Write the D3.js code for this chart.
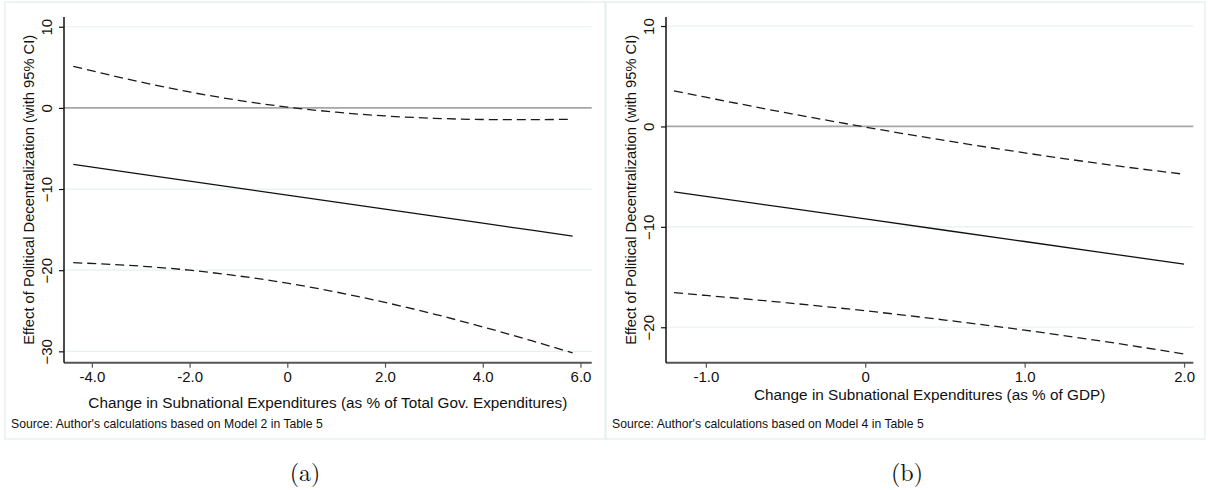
<!DOCTYPE html>
<html>
<head>
<meta charset="utf-8">
<script src="https://cdn.jsdelivr.net/npm/d3@7"></script>
<style>
  body { margin: 0; background: #fff; }
  svg text { font-family: "Liberation Sans", Arial, sans-serif; }
</style>
</head>
<body>
<svg id="fig" width="1208" height="490"></svg>
<script>
// Panel (a): marginal effect vs change in subnational expenditures (% of total gov. expenditures)
const xA = [-4.38, -3, -2, -1, 0, 1, 2, 3, 4, 5, 5.84];
const effectA = [-6.97, -8.16, -9.02, -9.89, -10.75, -11.61, -12.48, -13.34, -14.21, -15.07, -15.80];
const upperA = [5.13, 3.18, 1.96, 0.93, 0.10, -0.53, -0.99, -1.28, -1.43, -1.45, -1.40];
const lowerA = [-19.07, -19.50, -20.00, -20.71, -21.60, -22.69, -23.97, -25.40, -26.99, -28.69, -30.20];
const xTicksA = [-4, -2, 0, 2, 4, 6];
const xTickLabelsA = ["-4.0", "-2.0", "0", "2.0", "4.0", "6.0"];
const yTicksA = [10, 0, -10, -20, -30];

// Panel (b): marginal effect vs change in subnational expenditures (% of GDP)
const xB = [-1.2, -1, -0.5, 0, 0.5, 1, 1.5, 2];
const effectB = [-6.51, -6.96, -8.09, -9.21, -10.34, -11.46, -12.59, -13.71];
const upperB = [3.54, 2.91, 1.37, -0.06, -1.40, -2.63, -3.76, -4.76];
const lowerB = [-16.56, -16.83, -17.55, -18.36, -19.28, -20.29, -21.42, -22.66];
const xTicksB = [-1, 0, 1, 2];
const xTickLabelsB = ["-1.0", "0", "1.0", "2.0"];
const yTicksB = [10, 0, -10, -20];

const yTitle = "Effect of Political Decentralization (with 95% CI)";

const svg = d3.select("#fig");

function drawPanel(cfg) {
  const g = svg.append("g");

  // light outer frame of the graph region
  g.append("rect")
    .attr("x", cfg.frame[0]).attr("y", cfg.frame[1])
    .attr("width", cfg.frame[2]).attr("height", cfg.frame[3])
    .attr("fill", "none").attr("stroke", "#e9efef").attr("stroke-width", 1.5);

  const x = d3.scaleLinear().domain(cfg.xDomain).range([cfg.left, cfg.right]);
  const y = d3.scaleLinear().domain(cfg.yDomain).range([cfg.bottom, cfg.top]);

  // horizontal grid lines
  g.append("g").selectAll("line").data(cfg.yTicks.filter(d => d !== 0)).join("line")
    .attr("x1", cfg.left).attr("x2", cfg.right)
    .attr("y1", d => y(d)).attr("y2", d => y(d))
    .attr("stroke", "#e8f0f1").attr("stroke-width", 1.2);

  // reference line at zero
  g.append("line")
    .attr("x1", cfg.left).attr("x2", cfg.right)
    .attr("y1", y(0)).attr("y2", y(0))
    .attr("stroke", "#a6a6a6").attr("stroke-width", 1.8);

  const zip = (xs, ys) => xs.map((v, i) => [v, ys[i]]);

  // confidence bounds
  [cfg.upper, cfg.lower].forEach(vals => {
    g.append("path").datum(zip(cfg.xs, vals))
      .attr("d", d3.line().curve(d3.curveMonotoneX).x(d => x(d[0])).y(d => y(d[1])))
      .attr("fill", "none").attr("stroke", "#1a1a1a").attr("stroke-width", 1.3)
      .attr("stroke-dasharray", "9,5");
  });

  // point estimate
  g.append("path").datum(zip(cfg.xs, cfg.effect))
    .attr("d", d3.line().x(d => x(d[0])).y(d => y(d[1])))
    .attr("fill", "none").attr("stroke", "#111").attr("stroke-width", 1.3);

  // x axis
  const xAxis = g.append("g").attr("transform", `translate(0,${cfg.bottom})`)
    .call(d3.axisBottom(x).tickValues(cfg.xTicks)
      .tickFormat((d, i) => cfg.xTickLabels[i]).tickSize(5).tickPadding(4));
  xAxis.select(".domain").attr("stroke", "#555").attr("stroke-width", 2)
    .attr("d", `M${cfg.left},0H${cfg.right}`);
  xAxis.selectAll(".tick line").attr("stroke", "#555").attr("stroke-width", 1.2);
  xAxis.selectAll("text").attr("font-size", 15).attr("fill", "#111");

  // y axis with vertical tick labels
  const yAxis = g.append("g").attr("transform", `translate(${cfg.left},0)`)
    .call(d3.axisLeft(y).tickValues(cfg.yTicks).tickSize(5).tickFormat(d3.format("d")));
  yAxis.select(".domain").attr("stroke", "#111").attr("stroke-width", 1.5)
    .attr("d", `M0,${cfg.top}V${cfg.bottom}`);
  yAxis.selectAll(".tick line").attr("stroke", "#111").attr("stroke-width", 1.2);
  yAxis.selectAll(".tick text")
    .attr("font-size", 15).attr("fill", "#111")
    .attr("text-anchor", "middle")
    .attr("x", 0).attr("y", 0).attr("dy", 0)
    .attr("transform", "translate(-12,0) rotate(-90)");

  // y axis title
  g.append("text")
    .attr("transform", `translate(${cfg.left - 30},${(cfg.top + cfg.bottom) / 2}) rotate(-90)`)
    .attr("text-anchor", "middle").attr("font-size", 14.7).attr("fill", "#111")
    .text(yTitle);

  // x axis title
  g.append("text")
    .attr("x", (cfg.left + cfg.right) / 2).attr("y", cfg.xTitleY)
    .attr("text-anchor", "middle").attr("font-size", 15.3).attr("fill", "#111")
    .text(cfg.xTitle);

  // source note
  g.append("text")
    .attr("x", cfg.frame[0] + 6).attr("y", 427.5)
    .attr("font-size", 12.2).attr("fill", "#111")
    .text(cfg.source);

  // subfigure caption
  g.append("text")
    .attr("x", cfg.captionX).attr("y", 481)
    .attr("text-anchor", "middle")
    .style("font-family", "'Latin Modern Roman', 'DejaVu Serif', 'Liberation Serif', serif")
    .attr("font-size", 24).attr("fill", "#111")
    .text(cfg.caption);
}

drawPanel({
  frame: [5, 2, 600, 437],
  left: 64, right: 591.7, top: 17, bottom: 362.7,
  xDomain: [-4.57, 6.23], yDomain: [-31.4, 11.2],
  xs: xA, effect: effectA, upper: upperA, lower: lowerA,
  xTicks: xTicksA, xTickLabels: xTickLabelsA, yTicks: yTicksA,
  xTitle: "Change in Subnational Expenditures (as % of Total Gov. Expenditures)",
  xTitleY: 408,
  source: "Source: Author's calculations based on Model 2 in Table 5",
  caption: "(a)", captionX: 305
});

drawPanel({
  frame: [606, 2, 599, 437],
  left: 666, right: 1193.3, top: 17, bottom: 362.7,
  xDomain: [-1.25, 2.058], yDomain: [-23.53, 10.9],
  xs: xB, effect: effectB, upper: upperB, lower: lowerB,
  xTicks: xTicksB, xTickLabels: xTickLabelsB, yTicks: yTicksB,
  xTitle: "Change in Subnational Expenditures (as % of GDP)",
  xTitleY: 400,
  source: "Source: Author's calculations based on Model 4 in Table 5",
  caption: "(b)", captionX: 907
});
</script>
</body>
</html>
